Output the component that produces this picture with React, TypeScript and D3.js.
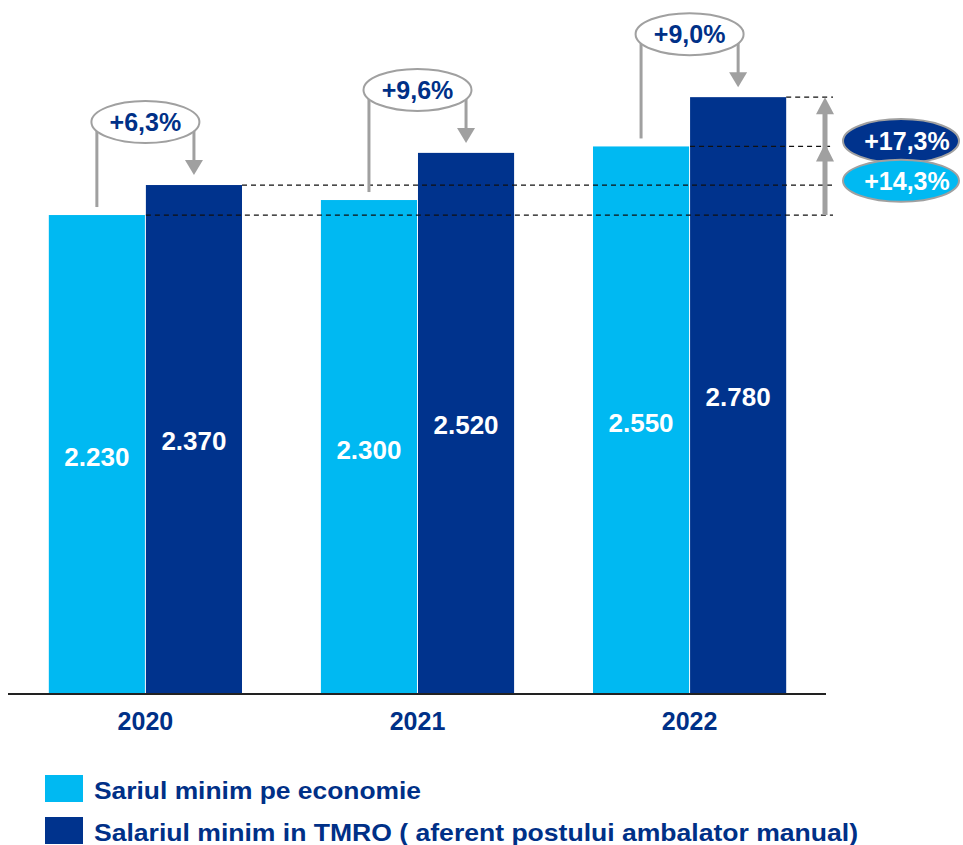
import React from 'react';
import * as d3 from 'd3';

const years = ['2020', '2021', '2022'];
const economyWage = [2230, 2300, 2550];
const tmroWage = [2370, 2520, 2780];
const yoyLabels = ['+6,3%', '+9,6%', '+9,0%'];
const totalTmroLabel = '+17,3%';
const totalEconomyLabel = '+14,3%';
const seriesNames = [
  'Sariul minim pe economie',
  'Salariul minim in TMRO ( aferent postului ambalator manual)',
];

const W = 963;
const H = 845;
const LIGHT = '#00b9f2';
const DARK = '#00338d';
const TEXT_DARK = '#003087';
const GRAY = '#a0a0a0';
const FONT = '"Liberation Sans", Arial, sans-serif';

const fmt = d3.formatLocale({ decimal: ',', thousands: '.', grouping: [3], currency: ['', ''] }).format(',d');

export default function App() {
  const y = d3.scaleLinear().domain([0, 3000]).range([693, 50]);
  const x = d3.scaleBand<string>().domain(years).range([8, 827]).paddingInner(0.29).paddingOuter(0.15);
  const inner = d3.scaleBand<string>().domain(['eco', 'tmro']).range([0, x.bandwidth()]).paddingInner(0.01);
  const bw = inner.bandwidth();

  const arrowHead = (cx: number, tipY: number, dir: number, hw: number, hh: number) =>
    `M${cx},${tipY} L${cx - hw},${tipY - dir * hh} L${cx + hw},${tipY - dir * hh} Z`;

  const dashRight = 833;
  const firstDark = x(years[0])! + inner('tmro')!;
  const lastDark = x(years[2])! + inner('tmro')!;
  const dashes = [
    { y: y(tmroWage[0]), x1: firstDark + bw },
    { y: y(economyWage[0]), x1: firstDark },
    { y: y(economyWage[2]), x1: lastDark },
    { y: y(tmroWage[2]), x1: lastDark + bw },
  ];

  const arrowX = 825;
  const ellX = 901;

  return (
    <svg width={W} height={H} style={{ position: 'absolute', left: 0, top: 0, background: '#fff' }} fontFamily={FONT}>
      {years.map((yr, i) => {
        const gx = x(yr)!;
        const ex = gx + inner('eco')!;
        const tx = gx + inner('tmro')!;
        return (
          <g key={yr}>
            <rect x={ex} y={y(economyWage[i])} width={bw} height={y(0) - y(economyWage[i])} fill={LIGHT} />
            <rect x={tx} y={y(tmroWage[i])} width={bw} height={y(0) - y(tmroWage[i])} fill={DARK} />
            <text x={ex + bw / 2} y={(y(economyWage[i]) + y(0)) / 2 + 12} textAnchor="middle" fill="#fff" fontWeight="bold" fontSize={26}>
              {fmt(economyWage[i])}
            </text>
            <text x={tx + bw / 2} y={(y(tmroWage[i]) + y(0)) / 2 + 11} textAnchor="middle" fill="#fff" fontWeight="bold" fontSize={26}>
              {fmt(tmroWage[i])}
            </text>
            <text x={gx + x.bandwidth() / 2} y={730} textAnchor="middle" fill={TEXT_DARK} fontWeight="bold" fontSize={25}>
              {yr}
            </text>
          </g>
        );
      })}

      <line x1={8} x2={826} y1={694} y2={694} stroke="#222" strokeWidth={2} />

      {dashes.map((d, i) => (
        <line key={i} x1={d.x1} x2={dashRight} y1={d.y} y2={d.y} stroke="#111" strokeWidth={1.2} strokeDasharray="5,4" />
      ))}

      {years.map((yr, i) => {
        const gx = x(yr)!;
        const ecx = gx + inner('eco')! + bw / 2;
        const tcx = gx + inner('tmro')! + bw / 2;
        const cy = y(tmroWage[i]) - 63;
        const tip = y(tmroWage[i]) - 10;
        return (
          <g key={'c' + yr}>
            <line x1={ecx} x2={ecx} y1={cy} y2={y(economyWage[i]) - 8} stroke={GRAY} strokeWidth={3} />
            <line x1={tcx} x2={tcx} y1={cy} y2={tip - 12} stroke={GRAY} strokeWidth={3} />
            <path d={arrowHead(tcx, tip, 1, 9, 15)} fill={GRAY} />
            <ellipse cx={gx + x.bandwidth() / 2} cy={cy} rx={54} ry={21} fill="#fff" stroke={GRAY} strokeWidth={2} />
            <text x={gx + x.bandwidth() / 2} y={cy + 9} textAnchor="middle" fill={TEXT_DARK} fontWeight="bold" fontSize={25}>
              {yoyLabels[i]}
            </text>
          </g>
        );
      })}

      <rect x={arrowX - 2.5} y={y(tmroWage[2]) + 15} width={5} height={y(economyWage[0]) - y(tmroWage[2]) - 15} fill={GRAY} />
      <path d={arrowHead(arrowX, y(tmroWage[2]), -1, 9, 17)} fill={GRAY} />
      <path d={arrowHead(arrowX, y(economyWage[2]) - 3, -1, 9, 18)} fill={GRAY} />

      <ellipse cx={ellX} cy={y((tmroWage[2] + tmroWage[0]) / 2)} rx={58} ry={22} fill={DARK} stroke={GRAY} strokeWidth={2} />
      <text x={ellX + 6} y={y((tmroWage[2] + tmroWage[0]) / 2) + 9} textAnchor="middle" fill="#fff" fontWeight="bold" fontSize={25}>
        {totalTmroLabel}
      </text>
      <ellipse cx={ellX} cy={y((economyWage[2] + economyWage[0]) / 2)} rx={58} ry={21} fill={LIGHT} stroke={GRAY} strokeWidth={2} />
      <text x={ellX + 6} y={y((economyWage[2] + economyWage[0]) / 2) + 9} textAnchor="middle" fill="#fff" fontWeight="bold" fontSize={25}>
        {totalEconomyLabel}
      </text>

      <rect x={45} y={775} width={38} height={27} fill={LIGHT} />
      <text x={94} y={799} fill={TEXT_DARK} fontWeight="bold" fontSize={24} textLength={327} lengthAdjust="spacingAndGlyphs">
        {seriesNames[0]}
      </text>
      <rect x={45} y={817} width={38} height={27} fill={DARK} />
      <text x={94} y={841} fill={TEXT_DARK} fontWeight="bold" fontSize={24} textLength={764} lengthAdjust="spacingAndGlyphs">
        {seriesNames[1]}
      </text>
    </svg>
  );
}
